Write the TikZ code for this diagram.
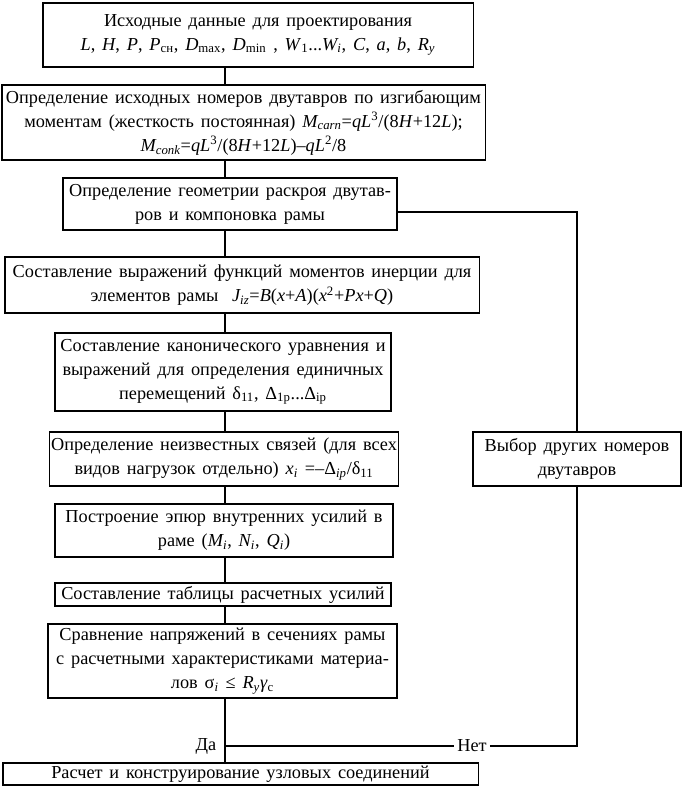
\documentclass[tikz,border=0pt]{standalone}
\usepackage{fontspec}
\setmainfont{Liberation Serif}[WordSpace=1.5]
\usepackage{tikz}
\usetikzlibrary{positioning}

\begin{document}
\begin{tikzpicture}[x=0.025cm, y=-0.025cm,
  blk/.style={draw, line width=0.8pt, inner sep=1pt, align=center, font=\fontsize{13}{17}\selectfont},
  lbl/.style={inner sep=2pt, font=\fontsize{13}{17}\selectfont},
  lnk/.style={line width=0.8pt}]
\useasboundingbox (0,0) rectangle (683,788);
% main column of blocks
\node[blk, minimum width=10.75cm, minimum height=1.6cm] (b1) at (258,35)
  {Исходные данные для проектирования\\
   \textit{L}, \textit{H}, \textit{P}, \textit{P}\textsubscript{сн}, \textit{D}\textsubscript{max}, \textit{D}\textsubscript{min} , \textit{W}\textsubscript{1}...\textit{W\textsubscript{i}}, \textit{C}, \textit{a}, \textit{b}, \textit{R\textsubscript{y}}};
\node[blk, minimum width=12.075cm, minimum height=1.875cm] (b2) at (243.5,122.5)
  {Определение исходных номеров двутавров по изгибающим\\
   моментам (жесткость постоянная) \textit{M\textsubscript{carn}}=\textit{qL}\textsuperscript{3}/(8\textit{H}+12\textit{L});\\
   \textit{M\textsubscript{conk}}=\textit{qL}\textsuperscript{3}/(8\textit{H}+12\textit{L})–\textit{qL}\textsuperscript{2}/8};
\node[blk, minimum width=8.35cm, minimum height=1.3cm] (b3) at (230,204)
  {Определение геометрии раскроя двутав-\\ров и компоновка рамы};
\node[blk, minimum width=11.85cm, minimum height=1.4cm] (b4) at (242,285)
  {Составление выражений функций моментов инерции для\\
   элементов рамы \ \textit{J\textsubscript{iz}}=\textit{B}(\textit{x}+\textit{A})(\textit{x}\textsuperscript{2}+\textit{Px}+\textit{Q})};
\node[blk, minimum width=8.4cm, minimum height=1.95cm] (b5) at (223,372)
  {Составление канонического уравнения и\\
   выражений для определения единичных\\
   перемещений δ\textsubscript{11}, Δ\textsubscript{1p}...Δ\textsubscript{ip}};
\node[blk, minimum width=8.45cm, minimum height=1.35cm] (b6) at (224,459)
  {Определение неизвестных связей (для всех\\
   видов нагрузок отдельно) \textit{x\textsubscript{i}} =–Δ\textsubscript{\textit{ip}}/δ\textsubscript{11}};
\node[blk, minimum width=8.45cm, minimum height=1.325cm] (b7) at (224,530.5)
  {Построение эпюр внутренних усилий в\\
   раме (\textit{M\textsubscript{i}}, \textit{N\textsubscript{i}}, \textit{Q\textsubscript{i}})};
\node[blk, minimum width=8.4cm, minimum height=0.575cm] (b8) at (223,594.5)
  {Составление таблицы расчетных усилий};
\node[blk, minimum width=8.725cm, minimum height=1.85cm] (b9) at (222.5,661)
  {Сравнение напряжений в сечениях рамы\\
   с расчетными характеристиками материа-\\
   лов σ\textsubscript{\textit{i}} ≤ \textit{R\textsubscript{y}γ}\textsubscript{c}};
\node[blk, minimum width=11.875cm, minimum height=0.55cm] (b10) at (240.5,774)
  {Расчет и конструирование узловых соединений};
% side block
\node[blk, minimum width=5.2cm, minimum height=1.35cm] (alt) at (577,459)
  {Выбор других номеров\\двутавров};
% connectors
\coordinate (sp) at (225,0);
\foreach \a/\b in {b1/b2,b2/b3,b3/b4,b4/b5,b5/b6,b6/b7,b7/b8,b8/b9,b9/b10}
  \draw[lnk] (\a.south -| sp) -- (\b.north -| sp);
\coordinate (j) at (225,746);
\node[lbl, left=4pt of j] (da) {Да};
\node[lbl] (net) at (472,746) {Нет};
\draw[lnk] (j) -- (net.west);
\draw[lnk] (net.east) -| (alt.south);
\draw[lnk] ([yshift=-2mm]b3.east) -| (alt.north);
\end{tikzpicture}
\end{document}
